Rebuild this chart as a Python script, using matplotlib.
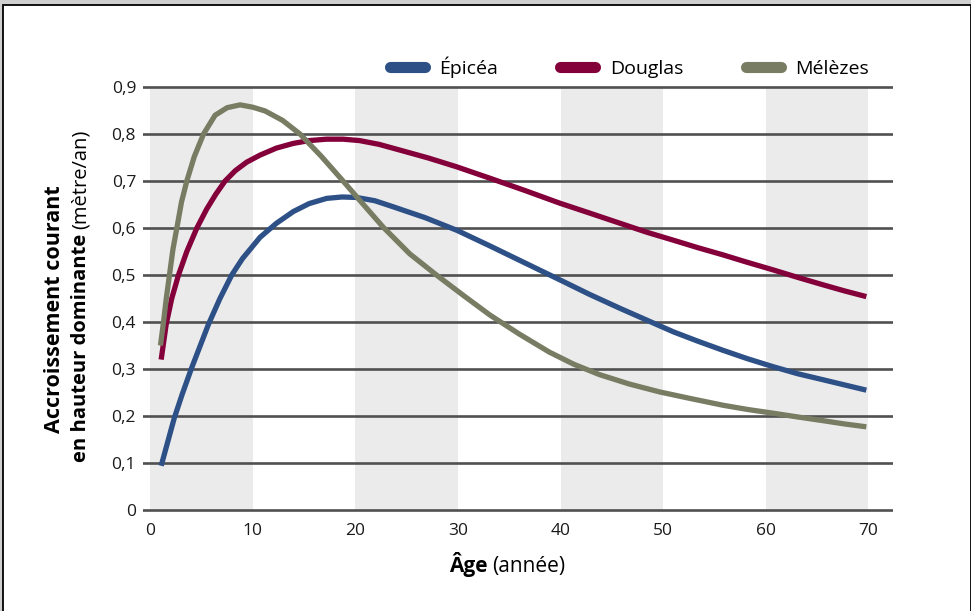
import matplotlib.pyplot as plt
from matplotlib.lines import Line2D
from matplotlib.patches import Rectangle

plt.rcParams['font.family'] = ['Open Sans', 'DejaVu Sans']

# ---------------- data ----------------
epicea_x = [1.07, 2.34, 3.1, 4.0, 5.68, 6.8, 7.95, 9.0, 10.7, 12.3, 13.95, 15.5, 17.2,
            18.7, 20.1, 21.9, 23.7, 26.8, 29.9, 33.1, 36.5, 39.9, 42.8, 45.8, 48.4,
            51.0, 53.4, 55.8, 58.2, 60.7, 63.1, 65.6, 67.7, 69.8]
epicea_y = [0.094, 0.195, 0.245, 0.300, 0.395, 0.450, 0.500, 0.535, 0.580, 0.610, 0.635,
            0.652, 0.663, 0.666, 0.665, 0.658, 0.645, 0.622, 0.595, 0.562, 0.526, 0.490,
            0.459, 0.429, 0.404, 0.379, 0.359, 0.340, 0.322, 0.305, 0.290, 0.277, 0.266,
            0.255]

douglas_x = [1.07, 1.56, 2.1, 2.76, 3.57, 4.55, 5.5, 6.4, 7.3, 8.3, 9.4, 10.7, 12.3,
             13.95, 15.5, 17.2, 18.8, 20.4, 22.3, 24.3, 27.1, 29.9, 33.1, 36.5, 39.9,
             42.8, 45.8, 48.4, 51.0, 53.4, 55.8, 58.2, 60.7, 63.1, 65.6, 67.7, 69.8]
douglas_y = [0.320, 0.395, 0.450, 0.500, 0.550, 0.600, 0.640, 0.672, 0.700, 0.722, 0.740,
             0.755, 0.770, 0.780, 0.786, 0.789, 0.789, 0.786, 0.778, 0.766, 0.749, 0.730,
             0.706, 0.680, 0.653, 0.632, 0.610, 0.591, 0.574, 0.558, 0.543, 0.527, 0.511,
             0.495, 0.479, 0.466, 0.454]

melezes_x = [1.0, 1.3, 1.58, 1.88, 2.22, 2.6, 3.05, 3.57, 4.3, 5.2, 6.33, 7.5, 8.77,
             10.0, 11.2, 12.9, 14.6, 16.7, 18.8, 20.7, 22.7, 25.3, 27.9, 30.5, 33.1,
             36.0, 38.9, 41.3, 43.8, 46.7, 49.7, 52.7, 55.8, 58.2, 60.7, 63.1, 65.6,
             67.7, 69.8]
melezes_y = [0.350, 0.400, 0.452, 0.500, 0.555, 0.600, 0.655, 0.700, 0.752, 0.800, 0.840,
             0.856, 0.862, 0.857, 0.849, 0.829, 0.800, 0.752, 0.700, 0.652, 0.602, 0.545,
             0.500, 0.457, 0.415, 0.374, 0.336, 0.310, 0.288, 0.268, 0.251, 0.237, 0.223,
             0.214, 0.206, 0.198, 0.190, 0.183, 0.177]

series_names = ['Épicéa', 'Douglas', 'Mélèzes']
series_colors = ['#2d5087', '#84003a', '#787c62']

x_ticks = [0, 10, 20, 30, 40, 50, 60, 70]
y_ticks = [0, 0.1, 0.2, 0.3, 0.4, 0.5, 0.6, 0.7, 0.8, 0.9]
y_tick_labels = ['0', '0,1', '0,2', '0,3', '0,4', '0,5', '0,6', '0,7', '0,8', '0,9']
bands = [(0, 10), (20, 30), (40, 50), (60, 70)]

# ---------------- figure ----------------
W, H = 971, 611
fig = plt.figure(figsize=(W / 100, H / 100), dpi=100, facecolor='#cfcfcf')

# white page with black frame
fig.patches.append(Rectangle((3.3 / W, -0.05), (970.5 - 3.3) / W, 1.05 - 4.8 / H,
                             transform=fig.transFigure, facecolor='white',
                             edgecolor='black', linewidth=1.3, zorder=-5))

ax = fig.add_axes([143 / W, 1 - 514.7 / H, (893 - 143) / W, (514.7 - 82.3) / H])
ax.set_zorder(2)
ax.set_facecolor('none')
ax.set_xlim(-0.7, 72.4)
ax.set_ylim(-0.01, 0.91)

# grey bands
for a, b in bands:
    ax.fill_betweenx([0, 0.9], a, b, color='#ebebeb', lw=0, zorder=1)

# horizontal lines
for v in y_ticks:
    ax.axhline(v, color='#505050', lw=1.9, zorder=2)

# curves
all_x = [epicea_x, douglas_x, melezes_x]
all_y = [epicea_y, douglas_y, melezes_y]
for xs, ys, c in zip(all_x, all_y, series_colors):
    ax.plot(xs, ys, color=c, lw=3.8, solid_capstyle='butt', solid_joinstyle='round', zorder=3)

for s in ax.spines.values():
    s.set_visible(False)
ax.set_xticks(x_ticks)
ax.set_xticklabels([str(t) for t in x_ticks])
ax.set_yticks(y_ticks)
ax.set_yticklabels(y_tick_labels)
ax.tick_params(axis='both', length=0, labelsize=12.5, colors='#1a1a1a')
ax.tick_params(axis='y', pad=5)
ax.tick_params(axis='x', pad=6)

# legend
handles = [Line2D([], [], color=c, lw=8, solid_capstyle='round') for c in series_colors]
fig.legend(handles, series_names, loc='center right', bbox_to_anchor=(869 / W, 1 - 67 / H),
           ncol=3, frameon=False, fontsize=14, handlelength=1.8, handletextpad=0.75,
           columnspacing=3.2, borderaxespad=0, borderpad=0)

# axis labels, bold + regular parts
fig.canvas.draw()
rend = fig.canvas.get_renderer()


def two_part(x, y, bold, regular, size, rotation):
    t1 = fig.text(x, y, bold, fontsize=size, fontweight='bold', rotation=rotation,
                  rotation_mode='anchor', ha='left', va='baseline')
    bb = t1.get_window_extent(rend)
    if rotation == 90:
        t2 = fig.text(x, (bb.y1 + 5) / H, regular, fontsize=size, rotation=90,
                      rotation_mode='anchor', ha='left', va='baseline')
    else:
        t2 = fig.text((bb.x1 + 5) / W, y, regular, fontsize=size,
                      rotation_mode='anchor', ha='left', va='baseline')
    return t1, t2


# y label
fig.text(55 / W, 1 - 309 / H, 'Accroissement courant', fontsize=15.5, fontweight='bold',
         rotation=90, ha='center', va='center')
two_part(86 / W, 1 - 462 / H, 'en hauteur dominante', '(mètre/an)', 14.5, 90)

# x label
two_part(449 / W, 1 - 572 / H, 'Âge', '(année)', 15, 0)

fig.savefig('out.png', dpi=100, facecolor=fig.get_facecolor())
